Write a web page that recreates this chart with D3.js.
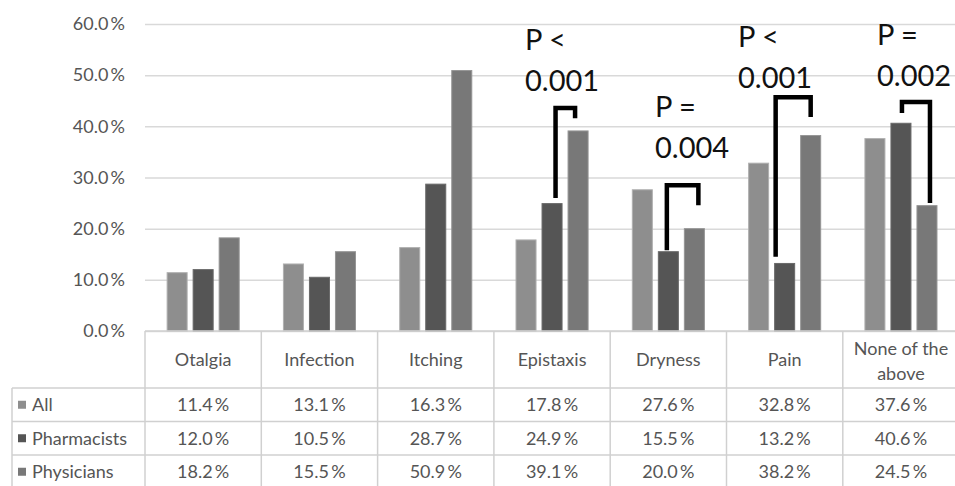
<!DOCTYPE html>
<html>
<head>
<meta charset="utf-8">
<script src="https://cdn.jsdelivr.net/npm/d3@7"></script>
<style>
  html, body { margin: 0; padding: 0; background: #fff; }
  svg { display: block; }
  text { font-family: Lato, "Open Sans", sans-serif; }
</style>
</head>
<body>
<svg id="chart" width="955" height="486"></svg>
<script>
// ---- Data ----
const categories = ["Otalgia", "Infection", "Itching", "Epistaxis", "Dryness", "Pain", "None of the above"];
const seriesNames = ["All", "Pharmacists", "Physicians"];
const allValues = [11.4, 13.1, 16.3, 17.8, 27.6, 32.8, 37.6];
const pharmacistValues = [12.0, 10.5, 28.7, 24.9, 15.5, 13.2, 40.6];
const physicianValues = [18.2, 15.5, 50.9, 39.1, 20.0, 38.2, 24.5];
const yTicks = [0, 10, 20, 30, 40, 50, 60];

// significance annotations (values in % units)
const sigCategories = ["Epistaxis", "Dryness", "Pain", "None of the above"];
const sigLine1 = ["P <", "P =", "P <", "P ="];
const sigLine2 = ["0.001", "0.004", "0.001", "0.002"];
const sigTop = [43.6, 28.5, 45.7, 44.75];
const sigFromEnd = [26.0, 15.8, 14.5, 42.6];
const sigToEnd = [41.6, 24.6, 41.8, 25.0];

// ---- Layout (separate from data) ----
const seriesColors = ["#8e8e8e", "#555555", "#787878"];
const bracketDx = [[3.5, -3], [-1.5, 4], [-9, 0], [1, 3]];
const labelPos = [[525, 50], [655, 117], [738, 47], [877, 45]];

const svg = d3.select("#chart");
const x0 = 145, bandW = 116.3;
const x = d3.scaleBand().domain(categories).range([x0, x0 + bandW * categories.length]).paddingInner(0).paddingOuter(0);
const xs = d3.scaleBand().domain(seriesNames).range([0, x.bandwidth()]).paddingInner(6 / 26).paddingOuter(0.85);
const y = d3.scaleLinear().domain([0, 60]).range([331, 24]);

const seriesValues = [allValues, pharmacistValues, physicianValues];
const gridColor = "#d9d9d9";
const textColor = "#555555";
const fs = 18;
const pct = d => d3.format(".1f")(d) + "\u2009%";

// gridlines via axis
const yAxis = d3.axisLeft(y).tickValues(yTicks).tickSize(-(955 - x0)).tickFormat(pct);
const gy = svg.append("g").attr("transform", `translate(${x0},0)`).call(yAxis);
gy.select(".domain").remove();
gy.selectAll(".tick line").attr("stroke", gridColor).attr("stroke-width", 1.5);
gy.selectAll(".tick text").attr("x", -20).attr("fill", textColor).attr("font-size", fs).attr("font-family", "Lato, sans-serif");

// bars
seriesNames.forEach((s, si) => {
  svg.append("g").selectAll("rect").data(categories).join("rect")
    .attr("x", c => x(c) + xs(s))
    .attr("width", xs.bandwidth())
    .attr("y", (c, i) => y(seriesValues[si][i]))
    .attr("height", (c, i) => y(0) - y(seriesValues[si][i]))
    .attr("fill", seriesColors[si])
    .attr("stroke", d3.color(seriesColors[si]).brighter(0.6))
    .attr("stroke-width", 1);
});

// ---- Data table ----
const tableTop = 331, headerBottom = 388, rowH = 33.5, tableLeft = 12, tableRight = 960;
const tg = svg.append("g");
const lineAttr = sel => sel.attr("stroke", "#d0d0d0").attr("stroke-width", 1.5);
tg.append("line").attr("x1", x0).attr("x2", tableRight).attr("y1", tableTop).attr("y2", tableTop).call(lineAttr);
[0, 1, 2].forEach(r => {
  tg.append("line").attr("x1", tableLeft).attr("x2", tableRight)
    .attr("y1", headerBottom + r * rowH).attr("y2", headerBottom + r * rowH).call(lineAttr);
});
categories.forEach(c => {
  tg.append("line").attr("x1", x(c)).attr("x2", x(c)).attr("y1", tableTop).attr("y2", 490).call(lineAttr);
});
tg.append("line").attr("x1", tableLeft).attr("x2", tableLeft).attr("y1", headerBottom).attr("y2", 490).call(lineAttr);

// header labels
categories.forEach(c => {
  const cx = x(c) + x.bandwidth() / 2;
  const t = tg.append("text").attr("x", cx).attr("text-anchor", "middle").attr("fill", textColor).attr("font-size", fs);
  if (c === "None of the above") {
    t.append("tspan").attr("x", cx).attr("y", 355).text("None of the");
    t.append("tspan").attr("x", cx).attr("y", 380).text("above");
  } else {
    t.attr("y", 366).text(c);
  }
});

// rows
seriesNames.forEach((s, si) => {
  const cy = headerBottom + si * rowH + rowH / 2;
  tg.append("rect").attr("x", 18).attr("y", cy - 4).attr("width", 8).attr("height", 8).attr("fill", seriesColors[si]);
  tg.append("text").attr("x", 32).attr("y", cy + 6.5).attr("fill", textColor).attr("font-size", fs).text(s);
  categories.forEach((c, i) => {
    tg.append("text").attr("x", x(c) + x.bandwidth() / 2).attr("y", cy + 6.5)
      .attr("text-anchor", "middle").attr("fill", textColor).attr("font-size", fs)
      .text(pct(seriesValues[si][i]));
  });
});

// ---- Significance brackets ----
const ag = svg.append("g");
sigCategories.forEach((c, i) => {
  const xl = x(c) + xs("Pharmacists") + xs.bandwidth() / 2 + bracketDx[i][0];
  const xr = x(c) + xs("Physicians") + xs.bandwidth() / 2 + bracketDx[i][1];
  const path = d3.path();
  path.moveTo(xl, y(sigFromEnd[i]));
  path.lineTo(xl, y(sigTop[i]));
  path.lineTo(xr, y(sigTop[i]));
  path.lineTo(xr, y(sigToEnd[i]));
  ag.append("path").attr("d", path.toString()).attr("fill", "none")
    .attr("stroke", "#000").attr("stroke-width", 4.5).attr("stroke-linejoin", "miter");
  ag.append("text").attr("x", labelPos[i][0]).attr("y", labelPos[i][1])
    .attr("font-size", 29).attr("fill", "#111").text(sigLine1[i]);
  ag.append("text").attr("x", labelPos[i][0]).attr("y", labelPos[i][1] + 41)
    .attr("font-size", 29).attr("fill", "#111").text(sigLine2[i]);
});
</script>
</body>
</html>
